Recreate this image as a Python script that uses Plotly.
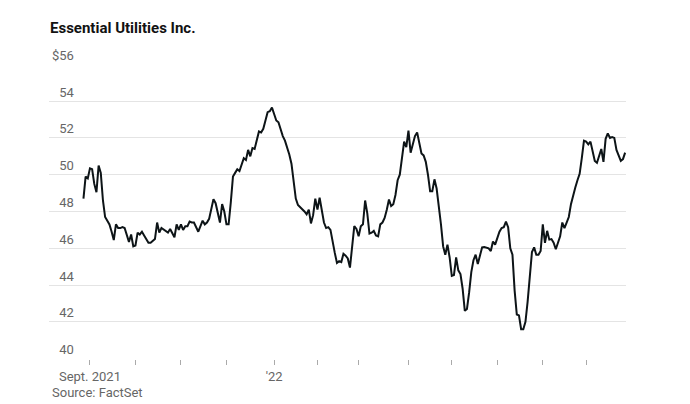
import pandas as pd
import plotly.graph_objects as go

# NYSE closures inside the window
holidays = ["2021-09-06", "2021-11-25", "2021-12-24", "2022-01-17", "2022-02-21",
            "2022-04-15", "2022-05-30", "2022-06-20", "2022-07-04"]
dates = pd.bdate_range("2021-08-27", "2022-08-25", freq="C", holidays=holidays)

# daily close
close = [
    48.7, 49.9, 49.8, 50.35, 50.3, 49.5, 49.05, 50.5, 50.1, 48.6,
    47.7, 47.5, 47.3, 46.9, 46.45, 47.3, 47.1, 47.1, 47.15, 47.1,
    46.65, 46.35, 46.75, 46.1, 46.15, 46.85, 46.75, 46.9, 46.7, 46.5,
    46.3, 46.3, 46.4, 46.5, 47.4, 46.85, 47.1, 47.0, 46.9, 46.85,
    47.05, 46.85, 46.6, 47.3, 47.0, 47.3, 47.0, 47.2, 47.2, 47.45,
    47.4, 47.4, 47.1, 46.9, 47.2, 47.5, 47.3, 47.4, 47.6, 48.2,
    48.67, 48.45, 47.9, 47.4, 48.4, 48.0, 47.3, 47.3, 48.5, 49.9,
    50.1, 50.3, 50.2, 50.55, 50.9, 50.8, 51.35, 51.0, 51.45, 51.4,
    51.9, 52.35, 52.3, 52.5, 52.95, 53.4, 53.45, 53.65, 53.3, 52.95,
    52.85, 52.4, 52.1, 51.85, 51.5, 51.1, 50.6, 49.7, 48.7, 48.35,
    48.25, 48.15, 48.0, 47.85, 48.1, 47.35, 47.8, 48.7, 48.1, 48.75,
    48.0, 47.4, 47.1, 47.15, 47.0, 46.3, 45.75, 45.2, 45.3, 45.25,
    45.7, 45.6, 45.45, 44.95, 46.2, 47.2, 47.05, 46.65, 47.2, 47.3,
    48.6, 47.9, 46.8, 46.85, 46.95, 46.7, 46.65, 47.3, 47.4, 47.65,
    48.1, 48.65, 48.3, 48.4, 48.9, 49.7, 50.0, 50.9, 51.8, 51.5,
    52.4, 51.2, 51.6, 52.1, 52.3, 51.8, 51.15, 51.05, 50.7, 50.0,
    49.1, 49.1, 49.75, 49.25, 48.4, 47.3, 46.1, 45.65, 46.2, 45.5,
    44.5, 44.55, 45.5, 44.8, 44.6, 43.8, 42.6, 42.7, 43.6, 44.7,
    45.35, 45.65, 45.15, 45.6, 46.05, 46.07, 46.05, 46.0, 45.85, 46.37,
    46.2, 46.6, 46.9, 47.1, 47.15, 47.45, 47.15, 46.0, 45.65, 43.7,
    42.4, 42.35, 41.6, 41.6, 42.0, 43.1, 44.6, 45.8, 46.05, 45.65,
    45.65, 45.85, 47.3, 46.3, 46.95, 46.47, 46.5, 46.3, 45.95, 46.3,
    46.65, 47.4, 47.1, 47.4, 47.7, 48.4, 48.9, 49.3, 49.7, 50.05,
    50.9, 51.85, 51.8, 51.65, 51.8, 51.3, 50.75, 50.65, 51.1, 51.4,
    50.7, 51.95, 52.25, 52.0, 52.05, 52.0, 51.35, 51.0, 50.75, 50.85,
    51.2,
]

# first trading day of each month -> x ticks
month_starts = ["2021-09-01", "2021-10-01", "2021-11-01", "2021-12-01", "2022-01-03",
                "2022-02-01", "2022-03-01", "2022-04-01", "2022-05-02", "2022-06-01",
                "2022-07-01", "2022-08-01"]
month_labels = ["Sept. 2021", "", "", "", "'22", "", "", "", "", "", "", ""]

y_ticks = [40, 42, 44, 46, 48, 50, 52, 54, 56]
y_labels = ["40", "42", "44", "46", "48", "50", "52", "54", "$56"]

x = [d.strftime("%Y-%m-%d") for d in dates]
n = min(len(x), len(close))
x, close = x[:n], close[:n]

# pad labels with an invisible "$" so they line up on the right like the original
y_text = [lbl if lbl.startswith("$") else "<span style='color:rgba(0,0,0,0)'>$</span>" + lbl
          for lbl in y_labels]

# the page body adds an 8px offset, so the figure is laid out 8px up/left
fig = go.Figure()
fig.add_trace(go.Scatter(x=x, y=close, mode="lines",
                         line=dict(color="#0d1417", width=2), hoverinfo="skip"))

fig.update_layout(
    width=690, height=404,
    margin=dict(l=41, r=72, t=56, b=53, autoexpand=False),
    paper_bgcolor="white", plot_bgcolor="white",
    showlegend=False,
    font=dict(family="Roboto, Arial, sans-serif", size=13, color="#666666"),
    title=dict(text="<b>Essential Utilities Inc.</b>", x=42 / 690, xanchor="left",
               xref="container", y=1 - 20 / 404, yanchor="middle", yref="container",
               font=dict(size=15, color="#121212")),
)
fig.update_xaxes(
    type="category", range=[-15.9, 250.4], automargin=False,
    tickmode="array", tickvals=month_starts, ticktext=month_labels,
    ticks="outside", ticklen=5, tickwidth=1, tickcolor="#aaaaaa",
    showgrid=False, showline=False, zeroline=False,
    tickfont=dict(size=13, color="#666666"),
)
fig.update_yaxes(
    range=[39.98, 56.02], automargin=False,
    tickmode="array", tickvals=y_ticks, ticktext=y_text,
    ticklabelposition="inside top", ticklabeloverflow="allow",
    showgrid=True, gridcolor="#e4e4e4", gridwidth=1,
    zeroline=False, showline=False, ticks="",
    tickfont=dict(size=13, color="#666666"),
)
fig.add_annotation(text="Source: FactSet", xref="paper", yref="paper",
                   x=0, xanchor="left", xshift=1, y=(359.3 - 393) / 295.3, yanchor="middle",
                   showarrow=False, font=dict(size=13, color="#666666"))

fig.write_html("out.html")
